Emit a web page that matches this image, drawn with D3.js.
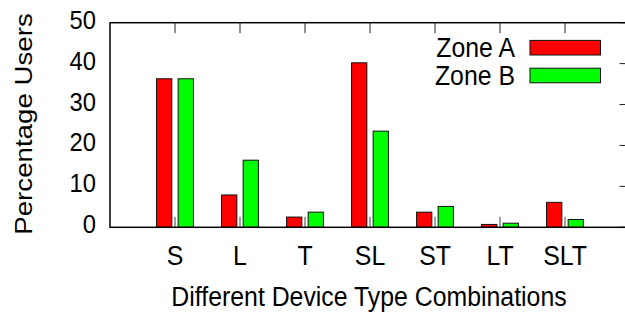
<!DOCTYPE html>
<html>
<head>
<meta charset="utf-8">
<script src="https://cdn.jsdelivr.net/npm/d3@7"></script>
<style>
  body { margin: 0; background: #fff; }
  text { font-family: "Liberation Sans", Arial, sans-serif; fill: #000; }
</style>
</head>
<body>
<div class="chart"></div>
<script>
// data
var categories = ["S", "L", "T", "SL", "ST", "LT", "SLT"];
var zoneA = [36.3, 7.9, 2.5, 40.2, 3.7, 0.7, 6.1];
var zoneB = [36.3, 16.4, 3.7, 23.5, 5.1, 1.0, 1.9];
var seriesNames = ["Zone A", "Zone B"];
var yTicks = [0, 10, 20, 30, 40, 50];

var svgWidth = 625;
var svgHeight = 312;

var margin = {
    top: 22.7,
    right: -5,
    bottom: 84.7,
    left: 110
};

var width = svgWidth - margin.left - margin.right;
var height = svgHeight - margin.top - margin.bottom;
var squeeze = 0.887;
var fontSize = 28;

var svg = d3
    .select(".chart")
    .append("svg")
    .attr("width", svgWidth)
    .attr("height", svgHeight);

var chartGroup = svg.append("g")
    .attr("transform", `translate(${margin.left}, ${margin.top})`);

var xScale = d3.scaleLinear()
    .domain([0, 8])
    .range([0, width]);

var yScale = d3.scaleLinear()
    .domain([0, 50])
    .range([height, 0]);

var barW = 0.235;
var offset = 0.166;
var colors = ["#ff0000", "#00ff00"];

// bars
[zoneA, zoneB].forEach(function(vals, s) {
    chartGroup.append("g").selectAll("rect")
        .data(vals)
        .enter()
        .append("rect")
        .attr("x", (d, i) => xScale(i + 1 + (s === 0 ? -offset : offset) - barW / 2))
        .attr("y", d => yScale(d))
        .attr("width", xScale(barW) - xScale(0))
        .attr("height", d => yScale(0) - yScale(d))
        .attr("fill", colors[s])
        .attr("stroke", "#111")
        .attr("stroke-width", 1);
});

// inward ticks, top and bottom at each category
var tickLen = 10.5;
categories.forEach(function(c, i) {
    var x = xScale(i + 1);
    chartGroup.append("line")
        .attr("x1", x).attr("x2", x)
        .attr("y1", 0).attr("y2", tickLen)
        .attr("stroke", "#222").attr("stroke-width", 1);
    chartGroup.append("line")
        .attr("x1", x).attr("x2", x)
        .attr("y1", height).attr("y2", height - tickLen)
        .attr("stroke", "#444").attr("stroke-width", 1);
});

// right side inward ticks
yTicks.forEach(function(t) {
    chartGroup.append("line")
        .attr("x1", width).attr("x2", width - tickLen)
        .attr("y1", yScale(t)).attr("y2", yScale(t))
        .attr("stroke", "#222").attr("stroke-width", 1);
});

// frame
chartGroup.append("rect")
    .attr("x", 0).attr("y", 0)
    .attr("width", width).attr("height", height)
    .attr("fill", "none")
    .attr("stroke", "#000")
    .attr("stroke-width", 1.5);

// y tick labels
chartGroup.selectAll(".ytick")
    .data(yTicks)
    .enter()
    .append("text")
    .attr("class", "ytick")
    .attr("text-anchor", "end")
    .attr("transform", d => `translate(${96 - margin.left}, ${yScale(d) + 6}) scale(0.95,1)`)
    .style("font-size", "25px")
    .text(d => d);

// x tick labels
chartGroup.selectAll(".xtick")
    .data(categories)
    .enter()
    .append("text")
    .attr("class", "xtick")
    .attr("text-anchor", "middle")
    .attr("transform", (d, i) => `translate(${xScale(i + 1)}, ${265 - margin.top}) scale(${squeeze},1)`)
    .style("font-size", fontSize + "px")
    .text(d => d);

// axis titles
svg.append("text")
    .attr("text-anchor", "middle")
    .attr("transform", "translate(369, 306) scale(0.92,1)")
    .style("font-size", "27px")
    .text("Different Device Type Combinations");

svg.append("text")
    .attr("text-anchor", "middle")
    .attr("transform", `translate(32, 124) scale(${squeeze},1) rotate(-90)`)
    .style("font-size", "27.7px")
    .text("Percentage Users");

// legend
var legend = svg.append("g");
seriesNames.forEach(function(name, s) {
    var cy = 47.7 + s * 27.8;
    legend.append("text")
        .attr("text-anchor", "end")
        .attr("transform", `translate(515, ${cy + 9}) scale(0.92,1)`)
        .style("font-size", "27px")
        .text(name);
    legend.append("rect")
        .attr("x", 530)
        .attr("y", cy - 7.3)
        .attr("width", 70.5)
        .attr("height", 14.6)
        .attr("fill", colors[s])
        .attr("stroke", "#111")
        .attr("stroke-width", 1);
});
</script>
</body>
</html>
